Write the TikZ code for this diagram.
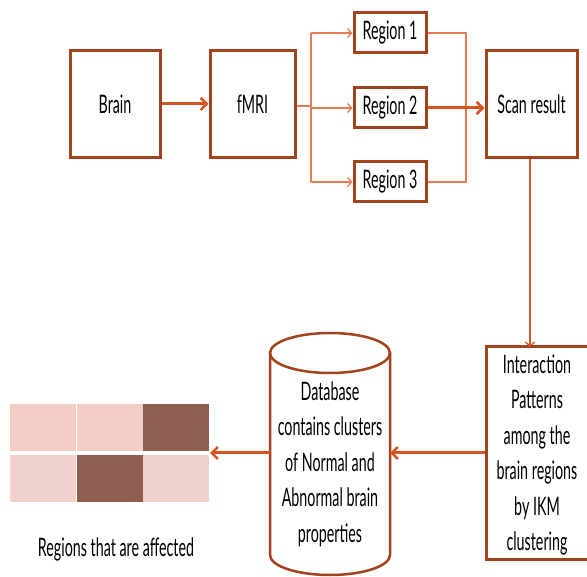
\documentclass[tikz,border=0pt]{standalone}
\usepackage{fontspec}
\setmainfont{Lato}[FakeStretch=0.56]
\usetikzlibrary{arrows.meta}
\definecolor{boxc}{HTML}{A3421C}
\definecolor{arrc}{HTML}{D6541F}
\definecolor{thinc}{HTML}{E87A55}
\definecolor{lpink}{HTML}{F2CDC6}
\definecolor{lpinkb}{HTML}{EFD1CC}
\definecolor{dbrown}{HTML}{8E5F4F}
\tikzset{
  txt/.style={font=\fontsize{25.5}{35.5}\selectfont, text=black, align=center},
  sbox/.style={draw=boxc, line width=3pt, fill=white, inner sep=0pt},
  mainarr/.style={draw=arrc, line width=3pt, -{Straight Barb[length=6pt,width=12pt,line width=2.5pt]}},
  thinline/.style={draw=thinc, line width=1.3pt},
  thinarr/.style={thinline, -{Straight Barb[length=4pt,width=9pt,line width=1.3pt]}},
  cell/.style={inner sep=0pt, minimum width=66pt, minimum height=47pt}
}
\begin{document}
\begin{tikzpicture}[x=1pt,y=-1pt]
\useasboundingbox (0,0) rectangle (587,577);
\clip (0,0) rectangle (587,577);
% boxes
\node[sbox, minimum width=90pt, minimum height=107pt, txt] (brain) at (115,104) {Brain};
\node[sbox, minimum width=85pt, minimum height=107pt, txt] (fmri) at (252.5,104) {fMRI};
\node[sbox, minimum width=72pt, minimum height=40pt, txt] (r1) at (390,33) {Region 1};
\node[sbox, minimum width=72pt, minimum height=40pt, txt] (r2) at (390,108) {Region 2};
\node[sbox, minimum width=72pt, minimum height=40pt, txt] (r3) at (390,182) {Region 3};
\node[sbox, minimum width=91pt, minimum height=107pt, txt] (scan) at (531.5,104) {Scan result};
\node[sbox, minimum width=104pt, minimum height=212pt] (inter) at (538,453) {};
\node[txt] (intertxt) at (537,455) {Interaction\\Patterns\\among the\\brain regions\\by IKM\\clustering};
% connectors
\draw[mainarr] (brain.east) -- (fmri.west);
\coordinate (split) at (311,106);
\coordinate (join) at (466,108);
\draw[thinline] (fmri.east |- split) -- (split);
\draw[thinline] (split |- r1.west) -- (split |- r3.west);
\draw[thinarr] (split |- r1.west) -- (r1.west);
\draw[thinarr] (split |- r2.west) -- (r2.west);
\draw[thinarr] (split |- r3.west) -- (r3.west);
\draw[thinline] (r1.east) -- (join |- r1.east) -- (join |- r3.east) -- (r3.east);
\draw[mainarr] (r2.east) -- (scan.west |- r2.east);
\draw[thinarr, draw=arrc, line width=2pt] (scan.south -| 530,0) -- (530,347);
% cylinder
\draw[boxc, line width=2.5pt, fill=white] (270,353) -- (270,555) arc[start angle=180, end angle=0, x radius=60, y radius=20] -- (390,353);
\draw[boxc, line width=2.5pt] (330,353) ellipse[x radius=60, y radius=20];
\node[txt] (db) at (330,464) {Database\\contains clusters\\of Normal and\\Abnormal brain\\properties};
\coordinate (dbr) at (390,453);
\coordinate (dbl) at (270,453);
\draw[mainarr] (inter.west |- dbr) -- (dbr);
% grid
\node[cell, fill=lpink] (c11) at (42.5,428) {};
\node[cell, fill=lpink] (c12) at (109.5,428) {};
\node[cell, fill=dbrown] (c13) at (176,428) {};
\node[cell, fill=lpinkb] (c21) at (42.5,479) {};
\node[cell, fill=dbrown] (c22) at (109.5,479) {};
\node[cell, fill=lpinkb] (c23) at (176,479) {};
\coordinate (gridr) at (210,453);
\draw[mainarr] (dbl) -- (gridr);
\node[txt] (lbl) at (116,549) {Regions that are affected};
\end{tikzpicture}
\end{document}
